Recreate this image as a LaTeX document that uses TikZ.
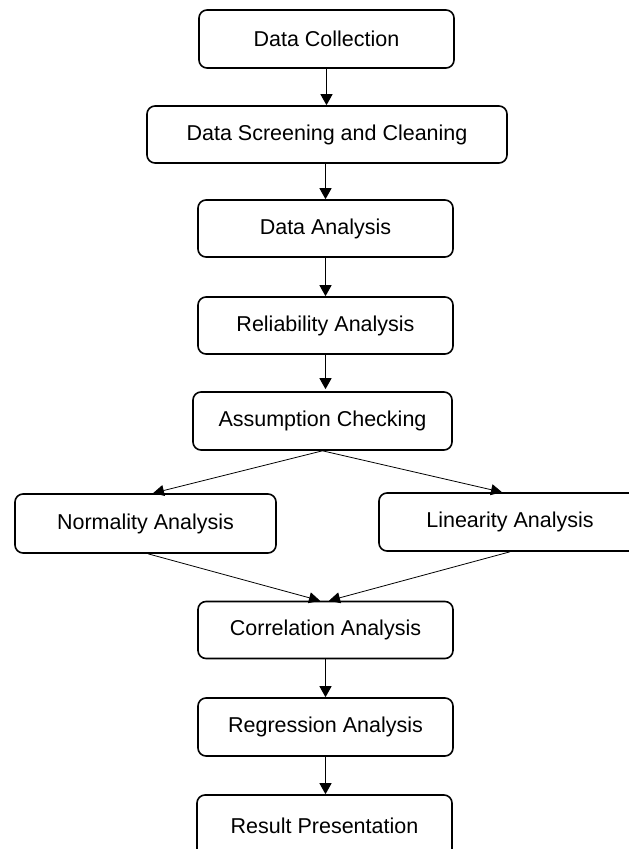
\documentclass[tikz,border=0pt]{standalone}
\usepackage{fontspec}
\setmainfont{Liberation Sans}
\usetikzlibrary{arrows.meta,calc}
\tikzset{
  stage/.style={draw=black, line width=1.6pt, rounded corners=8pt, fill=white,
    minimum height=58pt, inner sep=0pt, font=\fontsize{21.5}{25}\selectfont},
  flow/.style={draw=black, line width=1.1pt, -{Triangle[width=12pt,length=11pt]}},
  split/.style={draw=black, line width=0.8pt, -{Triangle[width=11pt,length=11pt]}}
}
\begin{document}
\begin{tikzpicture}[x=1pt,y=-1pt]
\useasboundingbox (0,0) rectangle (629,849);
\begin{scope}
\clip (0,0) rectangle (629,849);
\node[stage, minimum width=255pt] (collect) at (326.5,39) {Data Collection};
\node[stage, minimum width=360pt, minimum height=57pt] (screen) at (327,134.5) {Data Screening and Cleaning};
\node[stage, minimum width=255pt, minimum height=57pt] (analysis) at (325.5,228.5) {Data Analysis};
\node[stage, minimum width=255pt, minimum height=57pt] (reliab) at (325.5,325.5) {Reliability Analysis};
\node[stage, minimum width=259pt] (assume) at (322.5,421) {Assumption Checking};
\node[stage, minimum width=261pt, minimum height=59pt] (normal) at (145.5,523.5) {Normality Analysis};
\node[stage, minimum width=262pt] (linear) at (510,522) {Linearity Analysis};
\node[stage, minimum width=255pt, minimum height=57pt] (corr) at (325.5,630) {Correlation Analysis};
\node[stage, minimum width=255pt] (regr) at (325.5,727) {Regression Analysis};
\node[stage, minimum width=255pt, minimum height=64pt] (result) at (324.5,827) {\raisebox{3pt}{Result Presentation}};

% main vertical flow
\draw[flow] (collect.south) -- (collect.south |- screen.north);
\draw[flow] (analysis.north |- screen.south) -- (analysis.north);
\draw[flow] (analysis.south) -- (analysis.south |- reliab.north);
\draw[flow] (reliab.south) -- ($(reliab.south |- assume.north)+(0,-2)$);

% branching into the two assumption tests
\draw[split] (assume.south) -- ($(normal.north)+(7.5,0)$);
\draw[split] (assume.south) -- ($(linear.north)+(-8,0)$);

% merging back into correlation
\draw[split] ($(normal.south)+(2.5,0)$) -- ($(corr.north)+(-5.5,0)$);
\draw[split] (linear.south) -- ($(corr.north)+(3.5,0)$);

\draw[flow] (corr.south) -- (corr.south |- regr.north);
\draw[flow] (regr.south) -- (regr.south |- result.north);
\end{scope}
\end{tikzpicture}
\end{document}
